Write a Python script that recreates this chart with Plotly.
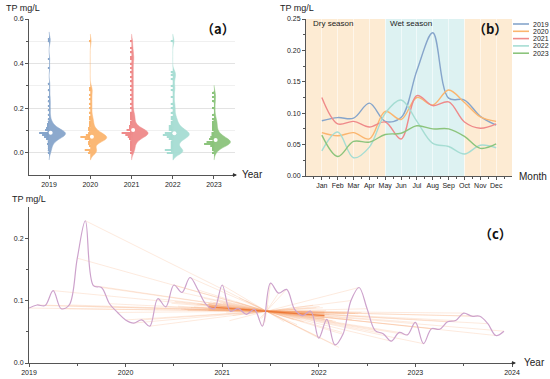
import numpy as np
import plotly.graph_objects as go

# ---------------- data ----------------
years = ["2019", "2020", "2021", "2022", "2023"]
months = ["Jan", "Feb", "Mar", "Apr", "May", "Jun", "Jul", "Aug", "Sep", "Oct", "Nov", "Dec"]

# monthly mean TP (mg/L), panel (b) / (c)
tp_2019 = [0.088, 0.093, 0.092, 0.116, 0.087, 0.093, 0.168, 0.228, 0.124, 0.121, 0.095, 0.081]
tp_2020 = [0.069, 0.064, 0.069, 0.059, 0.103, 0.090, 0.125, 0.113, 0.137, 0.117, 0.094, 0.087]
tp_2021 = [0.125, 0.083, 0.087, 0.078, 0.086, 0.059, 0.128, 0.112, 0.118, 0.086, 0.076, 0.083]
tp_2022 = [0.040, 0.070, 0.029, 0.046, 0.100, 0.121, 0.087, 0.052, 0.047, 0.035, 0.049, 0.045]
tp_2023 = [0.065, 0.031, 0.055, 0.054, 0.066, 0.068, 0.080, 0.075, 0.075, 0.063, 0.044, 0.051]
monthly = [tp_2019, tp_2020, tp_2021, tp_2022, tp_2023]

# individual samples (mg/L), panel (a)
s_2019 = [0.0, 0.01, 0.02, 0.03, 0.04, 0.045, 0.05, 0.055, 0.06, 0.062, 0.065, 0.068, 0.07, 0.072,
          0.074, 0.076, 0.078, 0.08, 0.081, 0.082, 0.083, 0.084, 0.085, 0.085, 0.086, 0.087, 0.088,
          0.089, 0.09, 0.091, 0.092, 0.094, 0.095, 0.097, 0.10, 0.102, 0.105, 0.108, 0.11, 0.115,
          0.12, 0.125, 0.13, 0.14, 0.15, 0.17, 0.19, 0.21, 0.23, 0.25, 0.28, 0.31, 0.38, 0.42, 0.50, 0.51]
s_2020 = [0.0, 0.003, 0.005, 0.007, 0.008, 0.01, 0.012, 0.03, 0.04, 0.045, 0.05, 0.052, 0.055, 0.058,
          0.06, 0.062, 0.064, 0.065, 0.066, 0.067, 0.068, 0.069, 0.07, 0.071, 0.072, 0.074, 0.076,
          0.078, 0.08, 0.083, 0.086, 0.09, 0.095, 0.10, 0.105, 0.11, 0.12, 0.13, 0.14, 0.15, 0.16,
          0.18, 0.20, 0.22, 0.24, 0.26, 0.28, 0.29, 0.50]
s_2021 = [0.0, 0.01, 0.02, 0.03, 0.04, 0.05, 0.055, 0.06, 0.065, 0.07, 0.072, 0.075, 0.078, 0.08,
          0.082, 0.084, 0.085, 0.086, 0.087, 0.088, 0.089, 0.09, 0.092, 0.094, 0.096, 0.098, 0.10,
          0.103, 0.106, 0.11, 0.115, 0.12, 0.13, 0.14, 0.15, 0.16, 0.17, 0.18, 0.20, 0.22, 0.24,
          0.26, 0.28, 0.30, 0.32, 0.34, 0.36, 0.38, 0.40, 0.42, 0.43, 0.45, 0.47, 0.50]
s_2022 = [0.0, 0.002, 0.004, 0.005, 0.006, 0.008, 0.01, 0.015, 0.03, 0.04, 0.05, 0.055, 0.06, 0.065,
          0.07, 0.072, 0.075, 0.078, 0.08, 0.082, 0.084, 0.085, 0.087, 0.09, 0.092, 0.095, 0.10,
          0.105, 0.11, 0.115, 0.12, 0.13, 0.14, 0.15, 0.16, 0.18, 0.20, 0.22, 0.25, 0.28, 0.30,
          0.33, 0.35, 0.36, 0.50]
s_2023 = [0.0, 0.01, 0.02, 0.025, 0.03, 0.033, 0.036, 0.038, 0.04, 0.041, 0.042, 0.043, 0.044, 0.045,
          0.046, 0.047, 0.048, 0.05, 0.052, 0.054, 0.056, 0.058, 0.06, 0.062, 0.065, 0.068, 0.07,
          0.075, 0.08, 0.085, 0.09, 0.10, 0.11, 0.12, 0.13, 0.14, 0.15, 0.17, 0.20, 0.23, 0.25, 0.27]
samples = [s_2019, s_2020, s_2021, s_2022, s_2023]

# season boundaries in month units (panel b)
dry1 = [0, 5]
wet = [5, 10]
dry2 = [10, 13]

# ---------------- style ----------------
colors = ["#86A5CB", "#FBB56E", "#EF8A8A", "#A6DDD3", "#8CC47C"]
axis_col = "#555555"
txt_col = "#222222"
FONT = "Liberation Sans, Arial, sans-serif"
W, H = 550, 379

fig = go.Figure()

# ---------------- panel (a) ----------------
pos = [1, 2, 3, 4, 5]
bin_edges = np.arange(-0.005, 0.525, 0.01)
for p, vals, c in zip(pos, samples, colors):
    vals = np.array(vals)
    fig.add_trace(go.Violin(
        x=[p] * len(vals), y=vals, side="positive", width=0.8, bandwidth=0.016,
        points="all", pointpos=-0.02, jitter=0,
        marker=dict(size=2, color=c, opacity=0.9),
        line=dict(color=c, width=0.5), fillcolor=c, opacity=0.95,
        box_visible=False, meanline_visible=False, scalemode="width",
        xaxis="x", yaxis="y", showlegend=False, hoverinfo="skip"))
    counts, _ = np.histogram(vals, bins=bin_edges)
    centers = (bin_edges[:-1] + bin_edges[1:]) / 2
    m = counts > 0
    fig.add_trace(go.Bar(
        y=centers[m], x=-counts[m] / counts.max() * 0.24, base=p, orientation="h",
        width=0.0045, marker=dict(color=c, line=dict(width=0)),
        xaxis="x", yaxis="y", showlegend=False, hoverinfo="skip"))
    fig.add_trace(go.Scatter(
        x=[p + 0.04], y=[np.median(vals)], mode="markers",
        marker=dict(size=4, color="white", line=dict(width=0)),
        xaxis="x", yaxis="y", showlegend=False, hoverinfo="skip"))

# ---------------- panel (b) ----------------
mx = list(range(1, 13))
for yr, vals, c in zip(years, monthly, colors):
    fig.add_trace(go.Scatter(
        x=mx, y=vals, mode="lines", line=dict(color=c, width=1.4, shape="spline", smoothing=1.0),
        xaxis="x2", yaxis="y2", showlegend=False, hoverinfo="skip", name=yr))

shapes = []
for rng, col in [(dry1, "#FDEBD3"), (wet, "#DDF2F2"), (dry2, "#FDEBD3")]:
    shapes.append(dict(type="rect", xref="x2", yref="y2 domain", x0=rng[0], x1=rng[1], y0=0, y1=1,
                       fillcolor=col, line=dict(width=0), layer="below"))

# manual legend for panel (b)
leg_x0, leg_x1, leg_tx = 513 / W, 529 / W, 531 / W
annotations = []
for i, (yr, c) in enumerate(zip(years, colors)):
    yy = 1 - (24 + 7.3 * i) / H
    shapes.append(dict(type="line", xref="paper", yref="paper", x0=leg_x0, x1=leg_x1, y0=yy, y1=yy,
                       line=dict(color=c, width=1.6)))
    annotations.append(dict(text=yr, xref="paper", yref="paper", x=leg_tx, y=yy, xanchor="left",
                            yanchor="middle", showarrow=False, font=dict(size=7, color=txt_col, family=FONT)))

# ---------------- panel (c) ----------------
t = np.array([2019 + k + (mm - 1) / 12 for k in range(5) for mm in range(1, 13)])
v = np.array([x for yrv in monthly for x in yrv])
cx, cy = t.mean(), np.median(v)

# Sen's slope
ii, jj = np.triu_indices(len(t), 1)
slopes = (v[jj] - v[ii]) / (t[jj] - t[ii])
sen = np.median(slopes)

# fan lines through the centre
ext = 0.4
fx, fy = [], []
for ti, vi in zip(t, v):
    fx += [ti, cx + ext * (cx - ti), None]
    fy += [vi, cy + ext * (cy - vi), None]
fig.add_trace(go.Scatter(x=fx, y=fy, mode="lines", line=dict(color="rgba(247,160,105,0.28)", width=0.8),
                         xaxis="x3", yaxis="y3", showlegend=False, hoverinfo="skip"))

half = 0.6
bw = 0.0065
bx = [cx - half, cx, cx + half, cx + half, cx, cx - half, cx - half]
by = [cy - sen * half + bw, cy, cy + sen * half + bw, cy + sen * half - bw, cy, cy - sen * half - bw,
      cy - sen * half + bw]
fig.add_trace(go.Scatter(x=bx, y=by, mode="lines", fill="toself", fillcolor="rgba(245,150,90,0.30)",
                         line=dict(width=0), xaxis="x3", yaxis="y3", showlegend=False, hoverinfo="skip"))
fig.add_trace(go.Scatter(x=[cx - half, cx + half], y=[cy - sen * half, cy + sen * half], mode="lines",
                         line=dict(color="rgba(235,110,40,0.8)", width=1.2),
                         xaxis="x3", yaxis="y3", showlegend=False, hoverinfo="skip"))

fig.add_trace(go.Scatter(x=t, y=v, mode="lines", line=dict(color="#CDA2CC", width=1.2, shape="spline", smoothing=1.0),
                         xaxis="x3", yaxis="y3", showlegend=False, hoverinfo="skip"))

# ---------------- axes ----------------
common = dict(showline=True, linecolor=axis_col, linewidth=1, ticks="outside", ticklen=3, tickwidth=1,
              tickcolor=axis_col, zeroline=False, automargin=False, tickangle=0,
              tickfont=dict(size=7, color=txt_col, family=FONT))

fig.update_layout(
    xaxis=dict(domain=[29 / W, 235 / W], range=[0.515, 5.51], tickvals=pos, ticktext=years,
               showgrid=False, anchor="y", **common),
    yaxis=dict(domain=[1 - 175 / H, 1 - 19 / H], range=[-0.1, 0.6], tickvals=[0.0, 0.2, 0.4, 0.6],
               tickformat=".1f", showgrid=True, gridcolor="#E3E3E3", gridwidth=1, anchor="x",
               minor=dict(tickvals=[0.1, 0.3, 0.5], ticks="outside", ticklen=2, tickcolor=axis_col,
                          showgrid=True, gridcolor="#F0F0F0"), **common),
    xaxis2=dict(domain=[306 / W, 512 / W], range=[0, 13], tickvals=mx, ticktext=months,
                showgrid=True, gridcolor="rgba(255,255,255,0.55)", gridwidth=1, anchor="y2",
                minor=dict(tickvals=[k + 0.5 for k in range(0, 13)], ticks="outside", ticklen=2,
                           tickcolor=axis_col), **common),
    yaxis2=dict(domain=[1 - 176 / H, 1 - 19 / H], range=[0, 0.25], dtick=0.05, tickformat=".2f",
                showgrid=False, anchor="x2",
                minor=dict(dtick=0.025, ticks="outside", ticklen=2, tickcolor=axis_col), **common),
    xaxis3=dict(domain=[29 / W, 512 / W], range=[2019, 2024], dtick=1, tickformat="d",
                showgrid=False, anchor="y3",
                minor=dict(dtick=0.5, ticks="outside", ticklen=2, tickcolor=axis_col), **common),
    yaxis3=dict(domain=[1 - 363 / H, 1 - 207 / H], range=[0, 0.25], tickvals=[0.0, 0.1, 0.2],
                tickformat=".1f", showgrid=False, anchor="x3",
                minor=dict(tickvals=[0.05, 0.15], ticks="outside", ticklen=2, tickcolor=axis_col),
                **common),
)

# titles and labels
lab = dict(xref="paper", yref="paper", showarrow=False)
annotations += [
    dict(text="TP mg/L", x=4 / W, y=1 - 8 / H, xanchor="left", yanchor="middle",
         font=dict(size=9, color=txt_col, family=FONT), **lab),
    dict(text="Year", x=240 / W, y=1 - 175 / H, xanchor="left", yanchor="middle",
         font=dict(size=10, color=txt_col, family=FONT), **lab),
    dict(text="<b>（a）</b>", x=218 / W, y=1 - 28 / H, xanchor="center", yanchor="middle",
         font=dict(size=13, color="#111", family="Noto Sans CJK SC"), **lab),
    dict(text="TP mg/L", x=278 / W, y=1 - 8 / H, xanchor="left", yanchor="middle",
         font=dict(size=9, color=txt_col, family=FONT), **lab),
    dict(text="Month", x=517 / W, y=1 - 176 / H, xanchor="left", yanchor="middle",
         font=dict(size=10, color=txt_col, family=FONT), **lab),
    dict(text="<b>（b）</b>", x=490 / W, y=1 - 28 / H, xanchor="center", yanchor="middle",
         font=dict(size=13, color="#111", family="Noto Sans CJK SC"), **lab),
    dict(text="TP mg/L", x=10 / W, y=1 - 199 / H, xanchor="left", yanchor="middle",
         font=dict(size=9, color=txt_col, family=FONT), **lab),
    dict(text="Year", x=522 / W, y=1 - 362 / H, xanchor="left", yanchor="middle",
         font=dict(size=10, color=txt_col, family=FONT), **lab),
    dict(text="<b>（c）</b>", x=495 / W, y=1 - 233 / H, xanchor="center", yanchor="middle",
         font=dict(size=13, color="#111", family="Noto Sans CJK SC"), **lab),
    dict(text="Dry season", xref="x2", yref="y2", x=0.3, y=0.243, xanchor="left", yanchor="middle",
         showarrow=False, font=dict(size=8, color=txt_col, family=FONT)),
    dict(text="Wet season", xref="x2", yref="y2", x=5.2, y=0.243, xanchor="left", yanchor="middle",
         showarrow=False, font=dict(size=8, color=txt_col, family=FONT)),
    # axis arrows
    dict(text="", xref="paper", yref="paper", x=237 / W, y=1 - 175 / H, ax=-6, ay=0, showarrow=True,
         arrowhead=2, arrowsize=0.8, arrowwidth=1, arrowcolor="#333"),
    dict(text="", xref="paper", yref="paper", x=516 / W, y=1 - 363 / H, ax=-6, ay=0, showarrow=True,
         arrowhead=2, arrowsize=0.8, arrowwidth=1, arrowcolor="#333"),
]

fig.update_layout(
    width=W, height=H, margin=dict(l=0, r=0, t=0, b=0, autoexpand=False),
    paper_bgcolor="white", plot_bgcolor="white",
    violinmode="overlay", barmode="overlay", showlegend=False,
    shapes=shapes, annotations=annotations,
    font=dict(family=FONT, size=8, color=txt_col),
)

fig.write_html("out.html", config={"displayModeBar": False},
               post_script="document.body.style.margin='0';document.body.style.overflow='hidden';")
